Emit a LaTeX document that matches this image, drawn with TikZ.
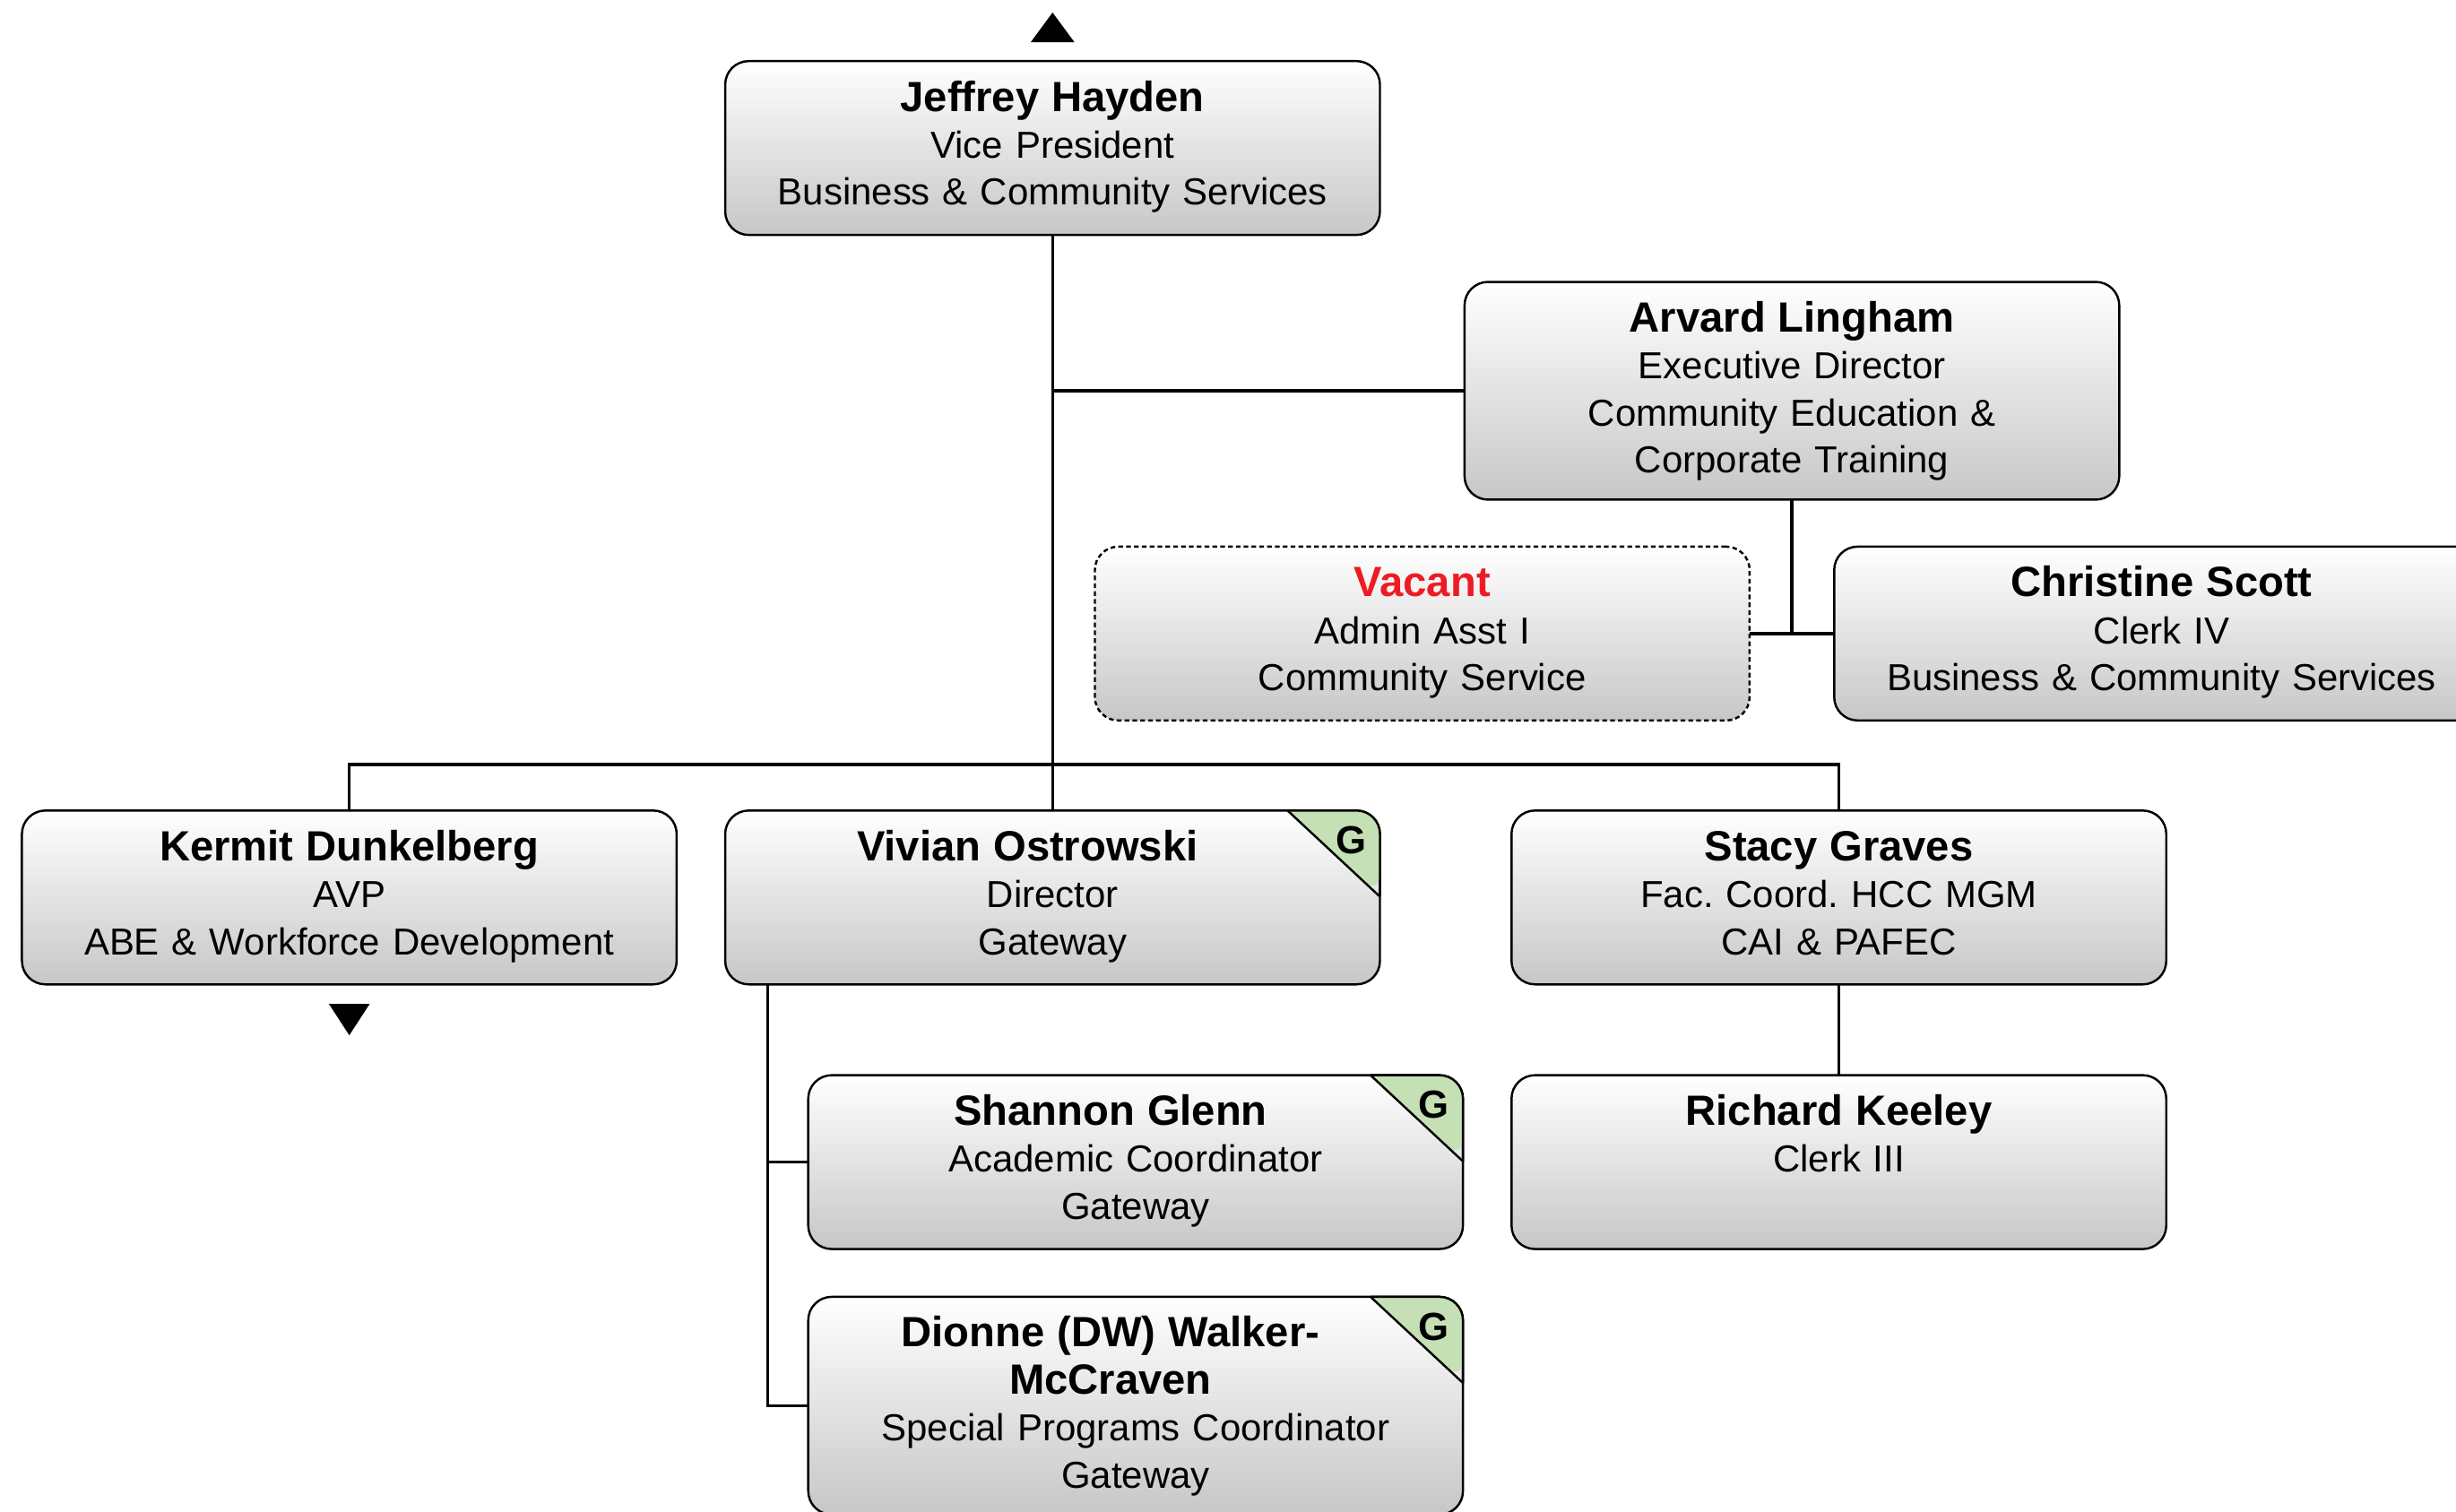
\documentclass[tikz,border=0pt]{standalone}
\usepackage{fontspec}
\setmainfont{Liberation Sans}
\frenchspacing
\definecolor{vacred}{HTML}{ED1C24}
\definecolor{gtab}{HTML}{C5E0B4}
\newcommand{\pname}[1]{{\fontsize{13.5}{15}\selectfont\bfseries #1}}

\begin{document}
\begin{tikzpicture}[x=0.5pt, y=-0.5pt,
    card/.style={draw, line width=0.7pt, rounded corners=7.5pt, top color=white, bottom color=black!22,
        minimum width=209pt, text width=205pt, align=center, inner sep=0pt, outer sep=0pt,
        text height=16pt, text depth=39.5pt, font=\fontsize{12}{15}\selectfont\frenchspacing},
    tall/.style={text depth=53.5pt},
    open/.style={dash pattern=on 1.5pt off 1pt},
    link/.style={line width=1pt}]
    % Page
    \clip (0,0) rectangle (1568,965);
    % Boxes
    \node[card] (jh) at (672,94.5) {\pname{Jeffrey Hayden}\\Vice President\\Business \& Community Services};
    \node[card, tall] (al) at (1144,249.5) {\pname{Arvard Lingham}\\Executive Director\\Community Education \&\\Corporate Training};
    \node[card, open] (va) at (908,404.5) {{\color{vacred}\pname{Vacant}}\\Admin Asst I\\Community Service};
    \node[card] (cs) at (1380,404.5) {\pname{Christine Scott}\\Clerk IV\\Business \& Community Services};
    \node[card] (kd) at (223,573) {\pname{Kermit Dunkelberg}\\AVP\\ABE \& Workforce Development};
    \node[card] (vo) at (672,573) {\pname{Vivian Ostrowski}\hbox{\kern16pt}\\Director\\Gateway};
    \node[card] (sgr) at (1174,573) {\pname{Stacy Graves}\\Fac. Coord. HCC MGM\\CAI \& PAFEC};
    \node[card] (sh) at (725,742) {\pname{Shannon Glenn}\hbox{\kern16pt}\\Academic Coordinator\\Gateway};
    \node[card] (rk) at (1174,742) {\pname{Richard Keeley}\\Clerk III};
    \node[card, tall] (dw) at (725,897.5) {\pname{Dionne (DW) Walker-}\hbox{\kern16pt}\\\pname{McCraven}\hbox{\kern16pt}\\Special Programs Coordinator\\Gateway};

    % G tabs
    \foreach \n in {vo, sh, dw}
    {
        \fill[gtab] ([xshift=-29.5pt]\n.north east) [rounded corners=7.5pt] -- (\n.north east) -- ([yshift=-27.5pt]\n.north east) [sharp corners] -- cycle;
        \draw[line width=0.7pt] ([xshift=-29.5pt]\n.north east) -- ([yshift=-27.5pt]\n.north east);
        \draw[line width=0.7pt, rounded corners=7.5pt] ([xshift=-29.5pt]\n.north east) -- (\n.north east) -- ([yshift=-27.5pt]\n.north east);
        \node[font=\fontsize{12.5}{12.5}\selectfont\bfseries, inner sep=0pt] (\n-g) at ([xshift=-9.25pt, yshift=-9.5pt]\n.north east) {G};
    }

    % Lines
    \coordinate (bus) at (672,488);
    \coordinate (vo-l) at ([xshift=13.5pt]vo.south west);
    \draw[link] (jh.south) -- (vo.north);
    \draw[link] (jh.south |- al.west) -- (al.west);
    \draw[link] (al.south) -- (al.south |- va.east);
    \draw[link] (va.east) -- (cs.west);
    \draw[link] (kd.north) |- (bus) -| (sgr.north);
    \draw[link] (vo-l) |- (dw.west);
    \draw[link] (vo-l |- sh.west) -- (sh.west);
    \draw[link] (sgr.south) -- (rk.north);

    % Off-page markers
    \fill (672,8) -- (686,27) -- (658,27) -- cycle;
    \fill (210,641) -- (236,641) -- (223,661) -- cycle;
\end{tikzpicture}
\end{document}
